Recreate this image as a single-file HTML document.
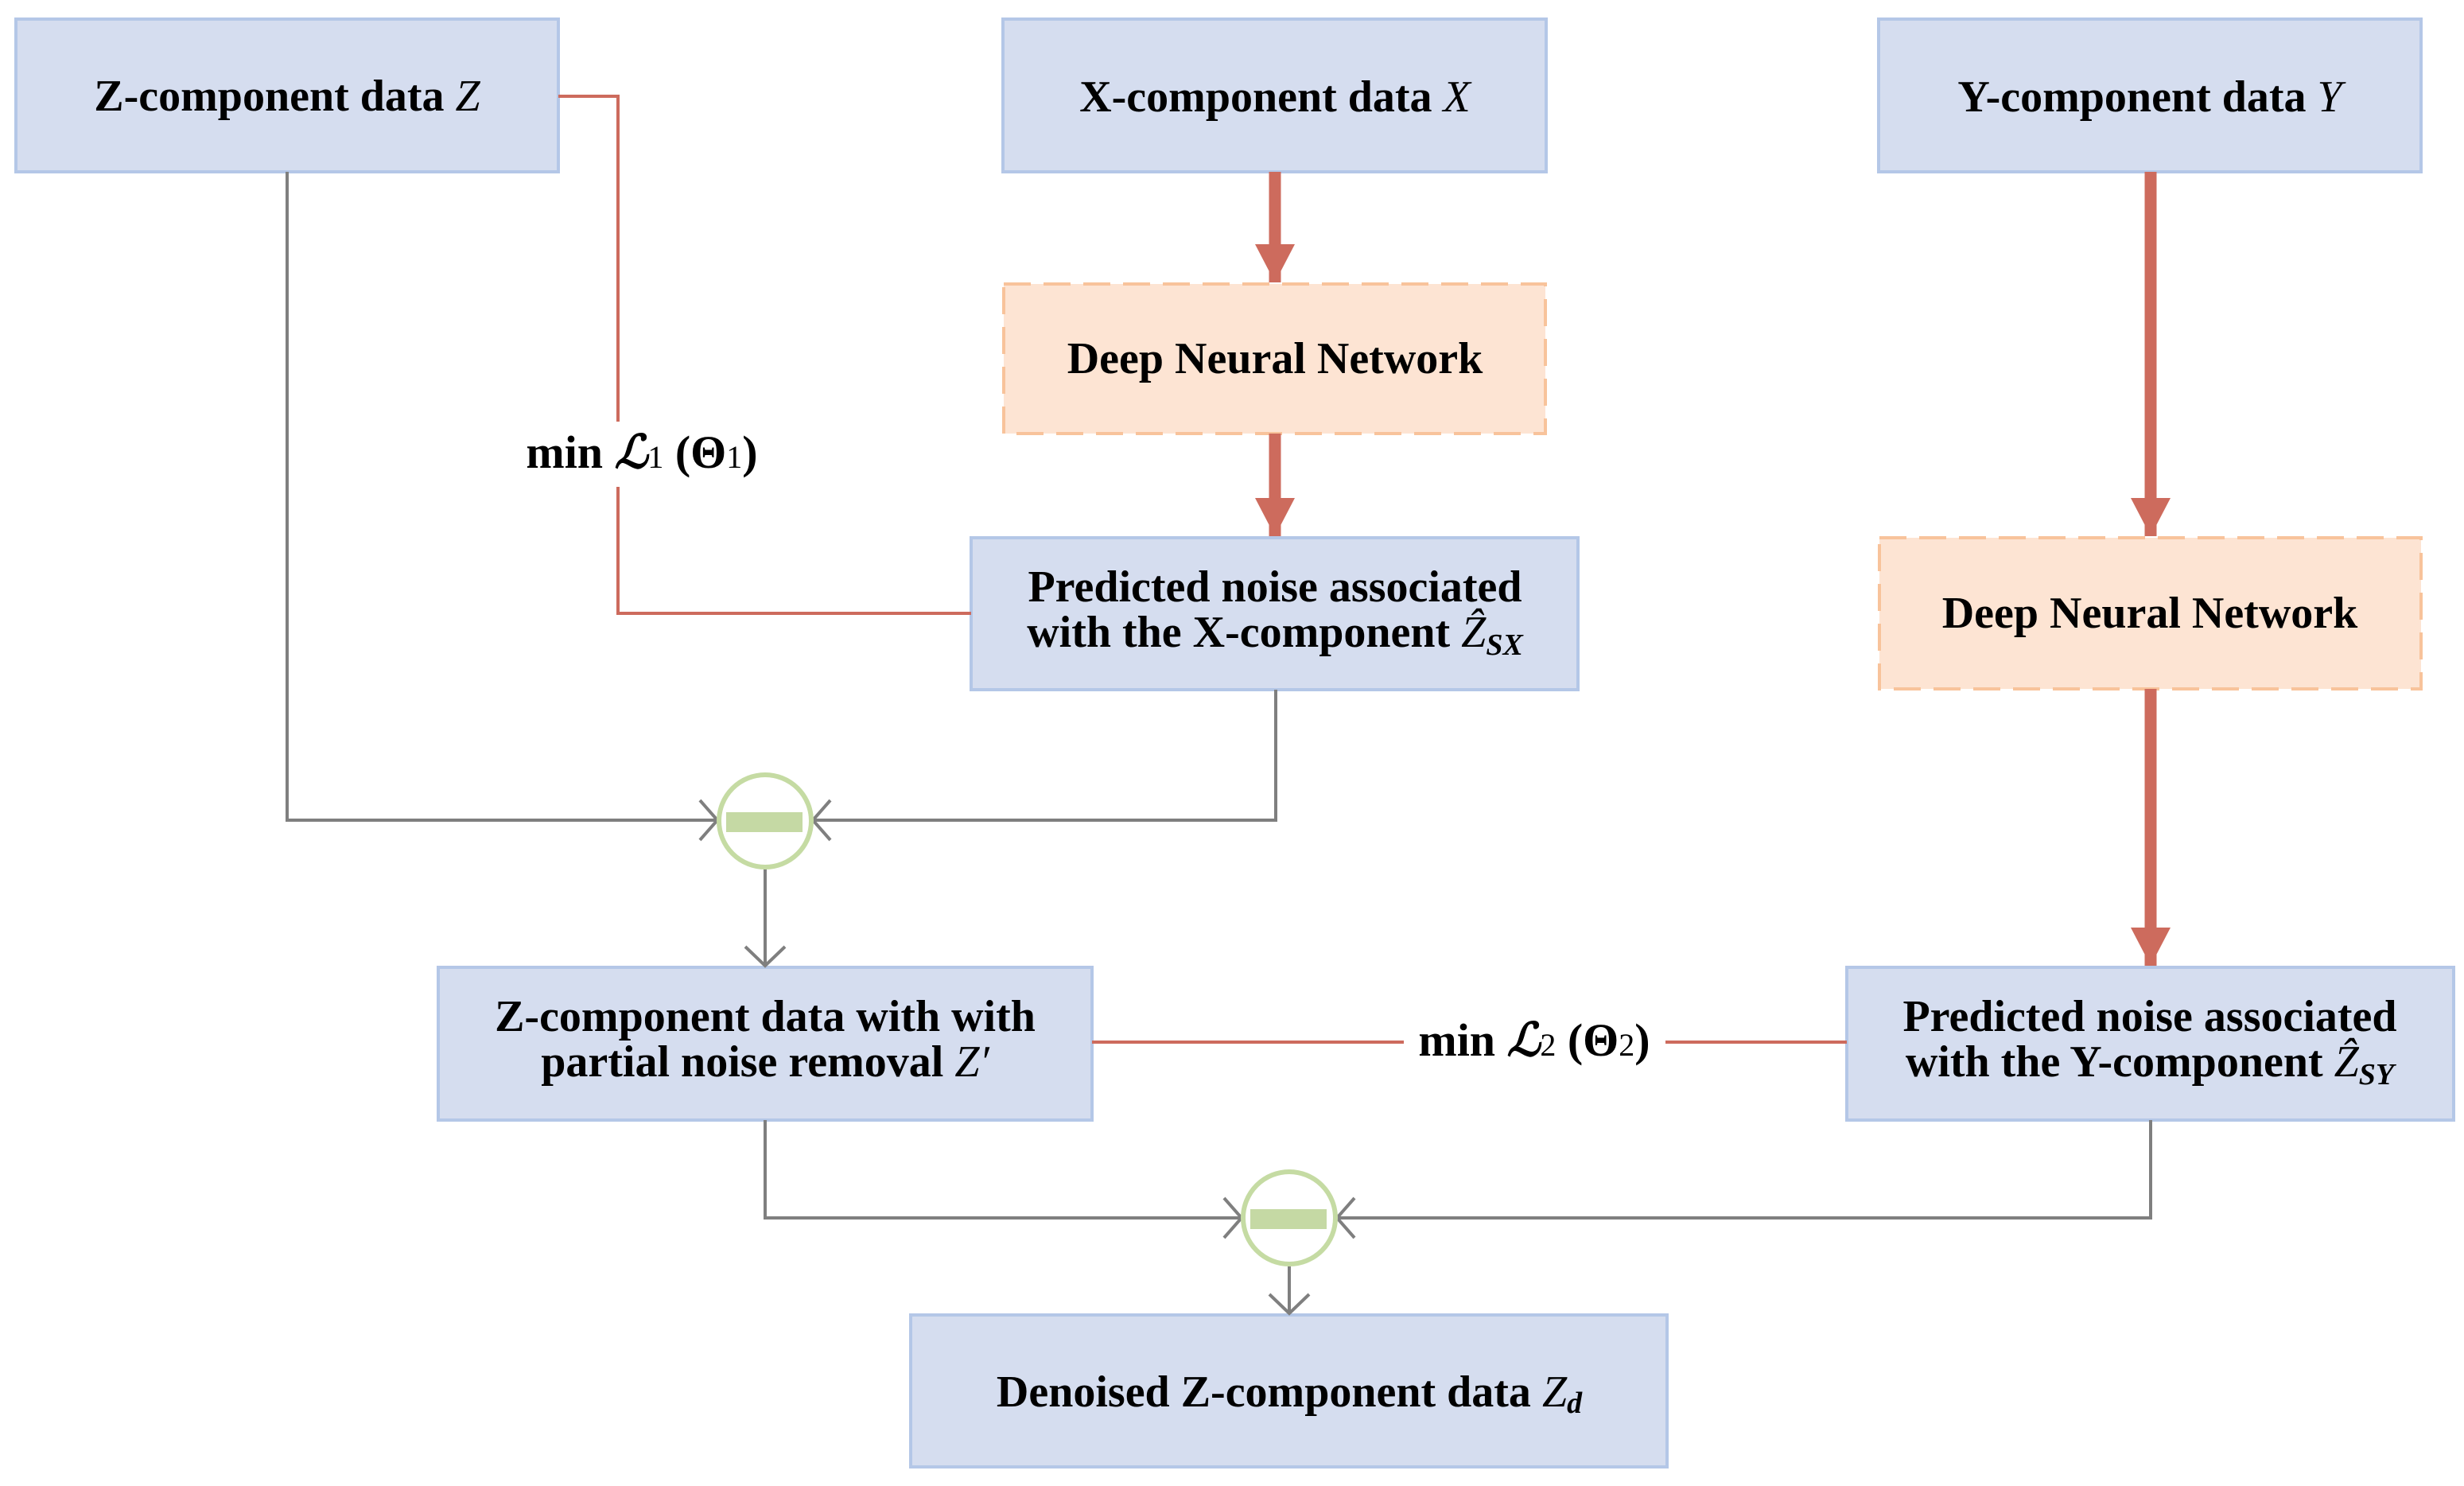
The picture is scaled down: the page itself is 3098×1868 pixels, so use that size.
<!DOCTYPE html>
<html><head><meta charset="utf-8"><style>
html,body{margin:0;padding:0;background:#fff;}
svg{display:block;}
text{font-family:"Liberation Serif",serif;font-weight:bold;fill:#000;}
</style></head><body>
<svg width="3098" height="1868" viewBox="0 0 3098 1868" xmlns="http://www.w3.org/2000/svg">
<defs>
<marker id="ra" markerUnits="userSpaceOnUse" markerWidth="52" markerHeight="52" refX="48" refY="25" orient="auto">
<path d="M0,0 L48,25 L0,50 Z" fill="#cd6b5d"/></marker>
</defs>
<g stroke="#b4c7e7" stroke-width="4" fill="#d5ddef">
<rect x="20" y="24" width="682" height="192"/>
<rect x="1261" y="24" width="683" height="192"/>
<rect x="2362" y="24" width="682" height="192"/>
<rect x="1221" y="676" width="763" height="191"/>
<rect x="2322" y="1216" width="763" height="192"/>
<rect x="551" y="1216" width="822" height="192"/>
<rect x="1145" y="1653" width="951" height="191"/>
</g>
<g stroke="#f8c39b" stroke-width="4" stroke-dasharray="34,16" fill="#fde4d3">
<rect x="1262" y="357" width="681" height="188"/>
<rect x="2363" y="676" width="681" height="190"/>
</g>
<g stroke="#cd6b5d" stroke-width="15" fill="none">
<line x1="1603" y1="216" x2="1603" y2="355" marker-end="url(#ra)"/>
<line x1="1603" y1="545" x2="1603" y2="674" marker-end="url(#ra)"/>
<line x1="2704" y1="216" x2="2704" y2="674" marker-end="url(#ra)"/>
<line x1="2704" y1="866" x2="2704" y2="1214" marker-end="url(#ra)"/>
</g>
<g stroke="#cd6b5d" stroke-width="4" fill="none">
<polyline points="702,121 777,121 777,530"/>
<polyline points="777,612 777,771 1221,771"/>
<line x1="1373" y1="1310" x2="1765" y2="1310"/>
<line x1="2094" y1="1310" x2="2322" y2="1310"/>
</g>
<g stroke="#7f7f7f" stroke-width="4" fill="none">
<polyline points="361,216 361,1031 900,1031"/>
<polyline points="1604,867 1604,1031 1024,1031"/>
<line x1="962" y1="1092" x2="962" y2="1214"/>
<polyline points="937,1190 962,1214 987,1190"/>
<polyline points="880,1006 902,1031 880,1056"/>
<polyline points="1044,1006 1022,1031 1044,1056"/>
<polyline points="962,1408 962,1531 1559,1531"/>
<polyline points="2704,1408 2704,1531 1683,1531"/>
<line x1="1621" y1="1592" x2="1621" y2="1651"/>
<polyline points="1596,1627 1621,1651 1646,1627"/>
<polyline points="1539,1506 1561,1531 1539,1556"/>
<polyline points="1703,1506 1681,1531 1703,1556"/>
</g>
<g stroke="#c5dba3" stroke-width="6" fill="#fff">
<circle cx="962" cy="1032" r="58"/>
<circle cx="1621" cy="1531" r="58"/>
</g>
<g fill="#c5d9a4">
<rect x="913" y="1021" width="96" height="25"/>
<rect x="1572" y="1520" width="96" height="25"/>
</g>
<g font-size="56" text-anchor="middle">
<text x="361" y="139">Z-component data <tspan font-style="italic" font-weight="normal">Z</tspan></text>
<text x="1603" y="140">X-component data <tspan font-style="italic" font-weight="normal">X</tspan></text>
<text x="2703" y="140">Y-component data <tspan font-style="italic" font-weight="normal">Y</tspan></text>
<text x="1603" y="469">Deep Neural Network</text>
<text x="2703" y="789">Deep Neural Network</text>
<text x="1603" y="756">Predicted noise associated</text>
<text x="1603" y="813">with the X-component <tspan font-style="italic" font-weight="normal">Ẑ</tspan><tspan font-style="italic" font-size="38" dy="10">SX</tspan></text>
<text x="2703" y="1296">Predicted noise associated</text>
<text x="2703" y="1353">with the Y-component <tspan font-style="italic" font-weight="normal">Ẑ</tspan><tspan font-style="italic" font-size="38" dy="10">SY</tspan></text>
<text x="962" y="1296">Z-component data with with</text>
<text x="962" y="1353">partial noise removal  <tspan font-style="italic" font-weight="normal">Z′</tspan></text>
<text x="1621" y="1768">Denoised Z-component data <tspan font-style="italic" font-weight="normal">Z</tspan><tspan font-style="italic" font-size="38" dy="8">d</tspan></text>
</g>
<g font-size="58" text-anchor="middle">
<text x="807" y="588">min <tspan font-style="italic">ℒ</tspan><tspan font-size="40" font-weight="normal">1</tspan> (Θ<tspan font-size="40" font-weight="normal">1</tspan>)</text>
<text x="1929" y="1327">min <tspan font-style="italic">ℒ</tspan><tspan font-size="40" font-weight="normal">2</tspan> (Θ<tspan font-size="40" font-weight="normal">2</tspan>)</text>
</g>
</svg>
</body></html>
